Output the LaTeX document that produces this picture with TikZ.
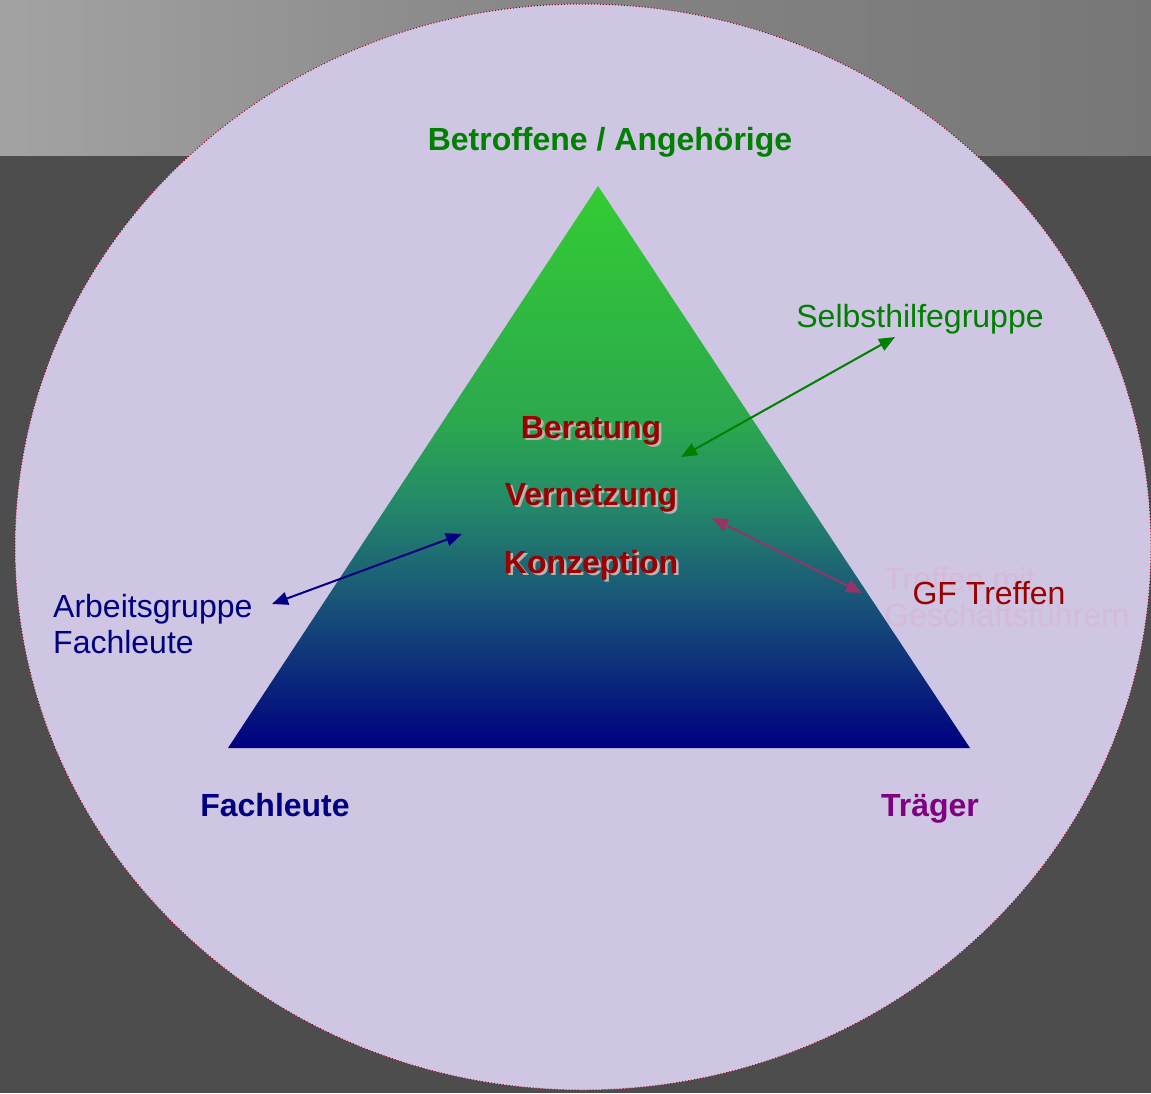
\documentclass[tikz,border=0pt]{standalone}
\usepackage{fontspec}
\setmainfont{Liberation Sans}
\usetikzlibrary{arrows.meta}
\definecolor{bgdark}{HTML}{4D4D4D}
\definecolor{bandL}{HTML}{A3A3A3}
\definecolor{bandR}{HTML}{777777}
\definecolor{lav}{HTML}{CEC6E2}
\definecolor{rimred}{HTML}{A00020}
\definecolor{topgreen}{HTML}{33CC33}
\definecolor{botnavy}{HTML}{000080}
\definecolor{pyrA}{HTML}{061A7C}
\definecolor{pyrB}{HTML}{1A5A78}
\definecolor{pyrC}{HTML}{248A68}
\definecolor{pyrD}{HTML}{2CA84E}
\definecolor{lblgreen}{HTML}{008000}
\definecolor{lblnavy}{HTML}{000080}
\definecolor{lblred}{HTML}{990000}
\definecolor{lblpurple}{HTML}{800080}
\definecolor{arrmag}{HTML}{993366}
\definecolor{faintpink}{HTML}{D6BADA}
\definecolor{shadowgray}{HTML}{BCB2B2}
\pgfdeclareverticalshading{pyrshade}{100bp}{%
  color(0bp)=(botnavy); color(25bp)=(botnavy);
  color(29bp)=(pyrA);
  color(39bp)=(pyrB);
  color(47bp)=(pyrC);
  color(54bp)=(pyrD);
  color(75bp)=(topgreen); color(100bp)=(topgreen)}
\begin{document}
\begin{tikzpicture}[x=1pt,y=-1pt,
  big/.style={font=\fontsize{32}{36}\selectfont, inner sep=0pt, anchor=base},
  bigbold/.style={big, font=\fontsize{32}{36}\selectfont\bfseries},
  conn/.style={line width=2pt, {Triangle[length=16pt,width=13pt]}-{Triangle[length=16pt,width=13pt]}},
]
\useasboundingbox (0,0) rectangle (1151,1093);
% background
\fill[bgdark] (0,0) rectangle (1151,1093);
\shade[left color=bandL, right color=bandR, middle color=bandR!70!bandL] (0,0) rectangle (1151,155);
% big disc
\fill[lav] (583,547) ellipse [x radius=568pt, y radius=543pt];
\draw[rimred, dotted, line width=1pt] (583,547) ellipse [x radius=568pt, y radius=543pt];
% pyramid
\coordinate (apex) at (598,186);
\coordinate (bl) at (228,748);
\coordinate (br) at (970,748);
\shade[shading=pyrshade] (apex) -- (br) -- (bl) -- cycle;
% corner labels
\node[bigbold, text=lblgreen] (betr) at (610,150) {Betroffene / Angehörige};
\node[bigbold, text=lblnavy] (fach) at (275,816) {Fachleute};
\node[bigbold, text=lblpurple] (traeger) at (930,816) {Träger};
% inner labels with shadow
\foreach \name/\txt/\y in {ber/Beratung/438, ver/Vernetzung/505, kon/Konzeption/573}{
  \node[bigbold, text=shadowgray] at (593.5,\y+2.5) {\txt};
  \node[bigbold, text=lblred] (\name) at (591,\y) {\txt};
}
% side labels
\node[big, text=lblgreen] (shg) at (920,327) {Selbsthilfegruppe};
\node[big, text=lblnavy, anchor=base west] (ag1) at (53,617) {Arbeitsgruppe};
\node[big, text=lblnavy, anchor=base west] (ag2) at (53,653) {Fachleute};
\node[big, text=faintpink, anchor=base west] (tm1) at (884,590) {Treffen mit};
\node[big, text=faintpink, anchor=base west] (tm2) at (884,626) {Geschäftsführern};
\node[big, text=lblred] (gf) at (989,604) {GF Treffen};
% connectors
\coordinate (g1) at (895,337); \coordinate (g2) at (681,457);
\coordinate (n1) at (272,604); \coordinate (n2) at (462,534);
\coordinate (m1) at (712,518); \coordinate (m2) at (862,593);
\draw[conn, lblgreen] (g2) -- (g1);
\draw[conn, lblnavy] (n1) -- (n2);
\draw[conn, arrmag] (m1) -- (m2);
\end{tikzpicture}
\end{document}
